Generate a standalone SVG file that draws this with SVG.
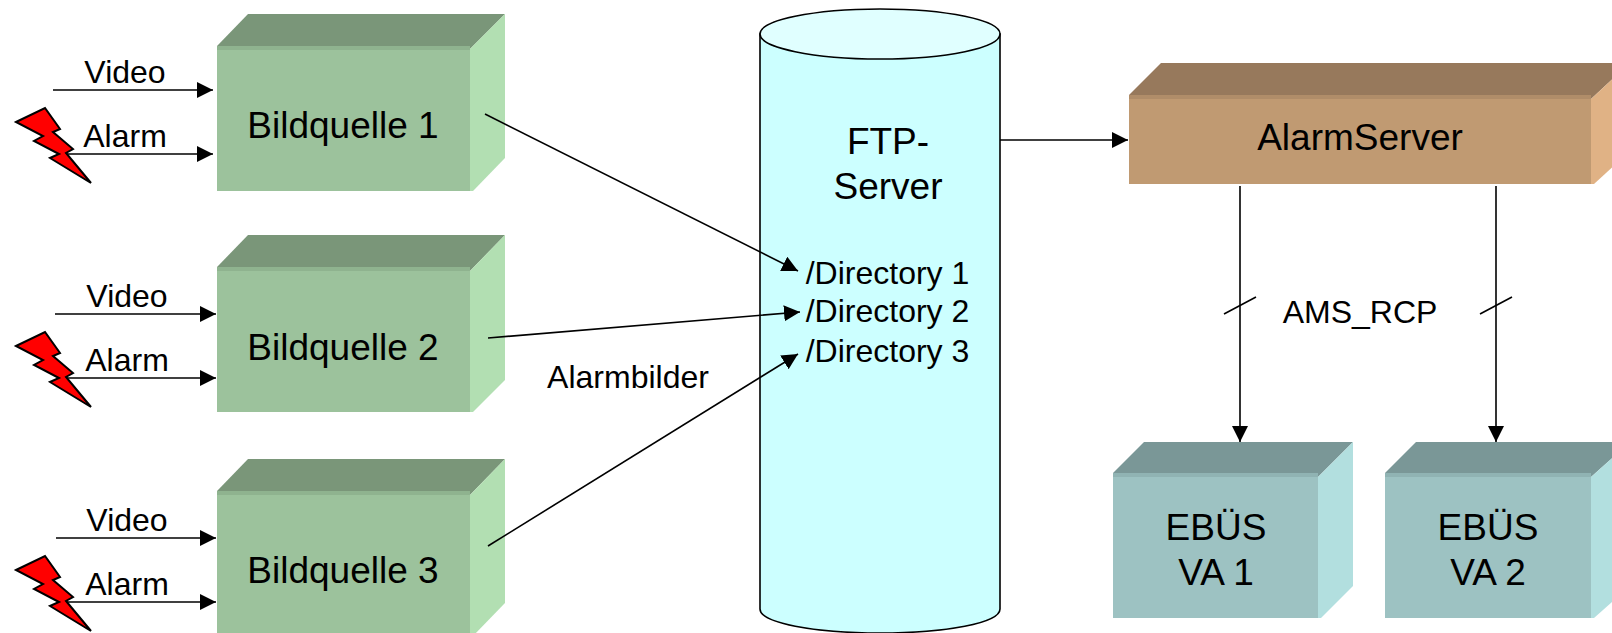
<svg xmlns="http://www.w3.org/2000/svg" width="1612" height="633" viewBox="0 0 1612 633">
<style>
text{font-family:"Liberation Sans",Arial,sans-serif;fill:#000}
.xl{font-size:37px;text-anchor:middle}
.m{font-size:32px;text-anchor:middle}
.gf{fill:#9cc29c}.gt{fill:#7a9679}.gr{fill:#b2dfb2}.ge{fill:#8fb38f}
.bf{fill:#c09a72}.bt{fill:#97795c}.br{fill:#e0b285}.be{fill:#b08d69}
.tf{fill:#9dc2c2}.tt{fill:#7a9797}.tr{fill:#b2dfdf}.te{fill:#90b3b3}
.cn{fill:none;stroke:#000;stroke-width:1.6}
.a{marker-end:url(#ah)}
.bolt{fill:#f00;stroke:#000;stroke-width:2}
</style>
<defs>
<marker id="ah" markerUnits="userSpaceOnUse" markerWidth="18" markerHeight="17" refX="16" refY="8" orient="auto"><path d="M0 0L16 8L0 16Z" fill="#000"/></marker>
<polygon id="bolt" points="16,122 45,108 60,129 53,132 73,149 66,153 91,183 50,158 59,154 34,141 43,136"/>
</defs>
<g id="bildquelle1">
<polygon class="gt" points="217,46 248,14 505,14 470,49"/>
<polygon class="gr" points="470,49 505,14 505,158 473,191 470,191"/>
<rect class="gf" x="217" y="46" width="253" height="145"/>
<rect class="ge" x="217" y="46" width="253" height="4"/>
<text class="xl" x="343" y="138">Bildquelle 1</text>
</g>
<g id="bildquelle2">
<polygon class="gt" points="217,267 248,235 505,235 470,271"/>
<polygon class="gr" points="470,271 505,235 505,380 473,412 470,412"/>
<rect class="gf" x="217" y="267" width="253" height="145"/>
<rect class="ge" x="217" y="267" width="253" height="4"/>
<text class="xl" x="343" y="360">Bildquelle 2</text>
</g>
<g id="bildquelle3">
<polygon class="gt" points="217,491 248,459 505,459 470,495"/>
<polygon class="gr" points="470,495 505,459 505,603 473,636 470,636"/>
<rect class="gf" x="217" y="491" width="253" height="145"/>
<rect class="ge" x="217" y="491" width="253" height="4"/>
<text class="xl" x="343" y="583">Bildquelle 3</text>
</g>
<g id="ftp-server">
<path d="M760 34V609C760 623 814 633 880 633S1000 623 1000 609V34Z" fill="#ccffff" stroke="#000" stroke-width="1.6"/>
<ellipse cx="880" cy="34" rx="120" ry="25" fill="#e0ffff" stroke="#000" stroke-width="1.6"/>
<text class="xl" x="888" y="154">FTP-</text>
<text class="xl" x="888" y="199">Server</text>
<text class="m" x="887.5" y="284">/Directory 1</text>
<text class="m" x="887.5" y="322">/Directory 2</text>
<text class="m" x="887.5" y="362">/Directory 3</text>
</g>
<g id="alarmserver">
<polygon class="bt" points="1129,95 1161,63 1630,63 1591,99"/>
<polygon class="br" points="1591,99 1630,63 1630,151 1594,184 1591,184"/>
<rect class="bf" x="1129" y="95" width="462" height="89"/>
<rect class="be" x="1129" y="95" width="462" height="4"/>
<text class="xl" x="1360" y="150">AlarmServer</text>
</g>
<g id="ebues-va1">
<polygon class="tt" points="1113,473 1144,442 1353,442 1318,477"/>
<polygon class="tr" points="1318,477 1353,442 1353,586 1321,618 1318,618"/>
<rect class="tf" x="1113" y="473" width="205" height="145"/>
<rect class="te" x="1113" y="473" width="205" height="4"/>
<text class="xl" x="1216" y="540">EBÜS</text>
<text class="xl" x="1216" y="585">VA 1</text>
</g>
<g id="ebues-va2">
<polygon class="tt" points="1385,473 1416,442 1630,442 1591,477"/>
<polygon class="tr" points="1591,477 1630,442 1630,586 1594,618 1591,618"/>
<rect class="tf" x="1385" y="473" width="206" height="145"/>
<rect class="te" x="1385" y="473" width="206" height="4"/>
<text class="xl" x="1488" y="540">EBÜS</text>
<text class="xl" x="1488" y="585">VA 2</text>
</g>
<g id="connectors">
<path class="cn a" d="M53 90H213"/>
<path class="cn a" d="M67 154H213"/>
<path class="cn a" d="M55 314H216"/>
<path class="cn a" d="M67 378H216"/>
<path class="cn a" d="M56 538H216"/>
<path class="cn a" d="M67 602H216"/>
<path class="cn a" d="M485 114L798 271"/>
<path class="cn a" d="M488 338L800 312"/>
<path class="cn a" d="M488 546L798 354"/>
<path class="cn a" d="M1000 140H1128"/>
<path class="cn a" d="M1240 186V442"/>
<path class="cn a" d="M1496 186V442"/>
<path class="cn" d="M1224 314L1256 297M1480 314L1512 297"/>
</g>
<g id="alarm-bolts">
<use href="#bolt" class="bolt"/>
<use href="#bolt" class="bolt" y="224"/>
<use href="#bolt" class="bolt" y="448"/>
</g>
<g id="labels">
<text class="m" x="125" y="83">Video</text>
<text class="m" x="125" y="147">Alarm</text>
<text class="m" x="127" y="307">Video</text>
<text class="m" x="127" y="371">Alarm</text>
<text class="m" x="127" y="531">Video</text>
<text class="m" x="127" y="595">Alarm</text>
<text class="m" x="628" y="388">Alarmbilder</text>
<text class="m" x="1360" y="323">AMS_RCP</text>
</g>
</svg>
